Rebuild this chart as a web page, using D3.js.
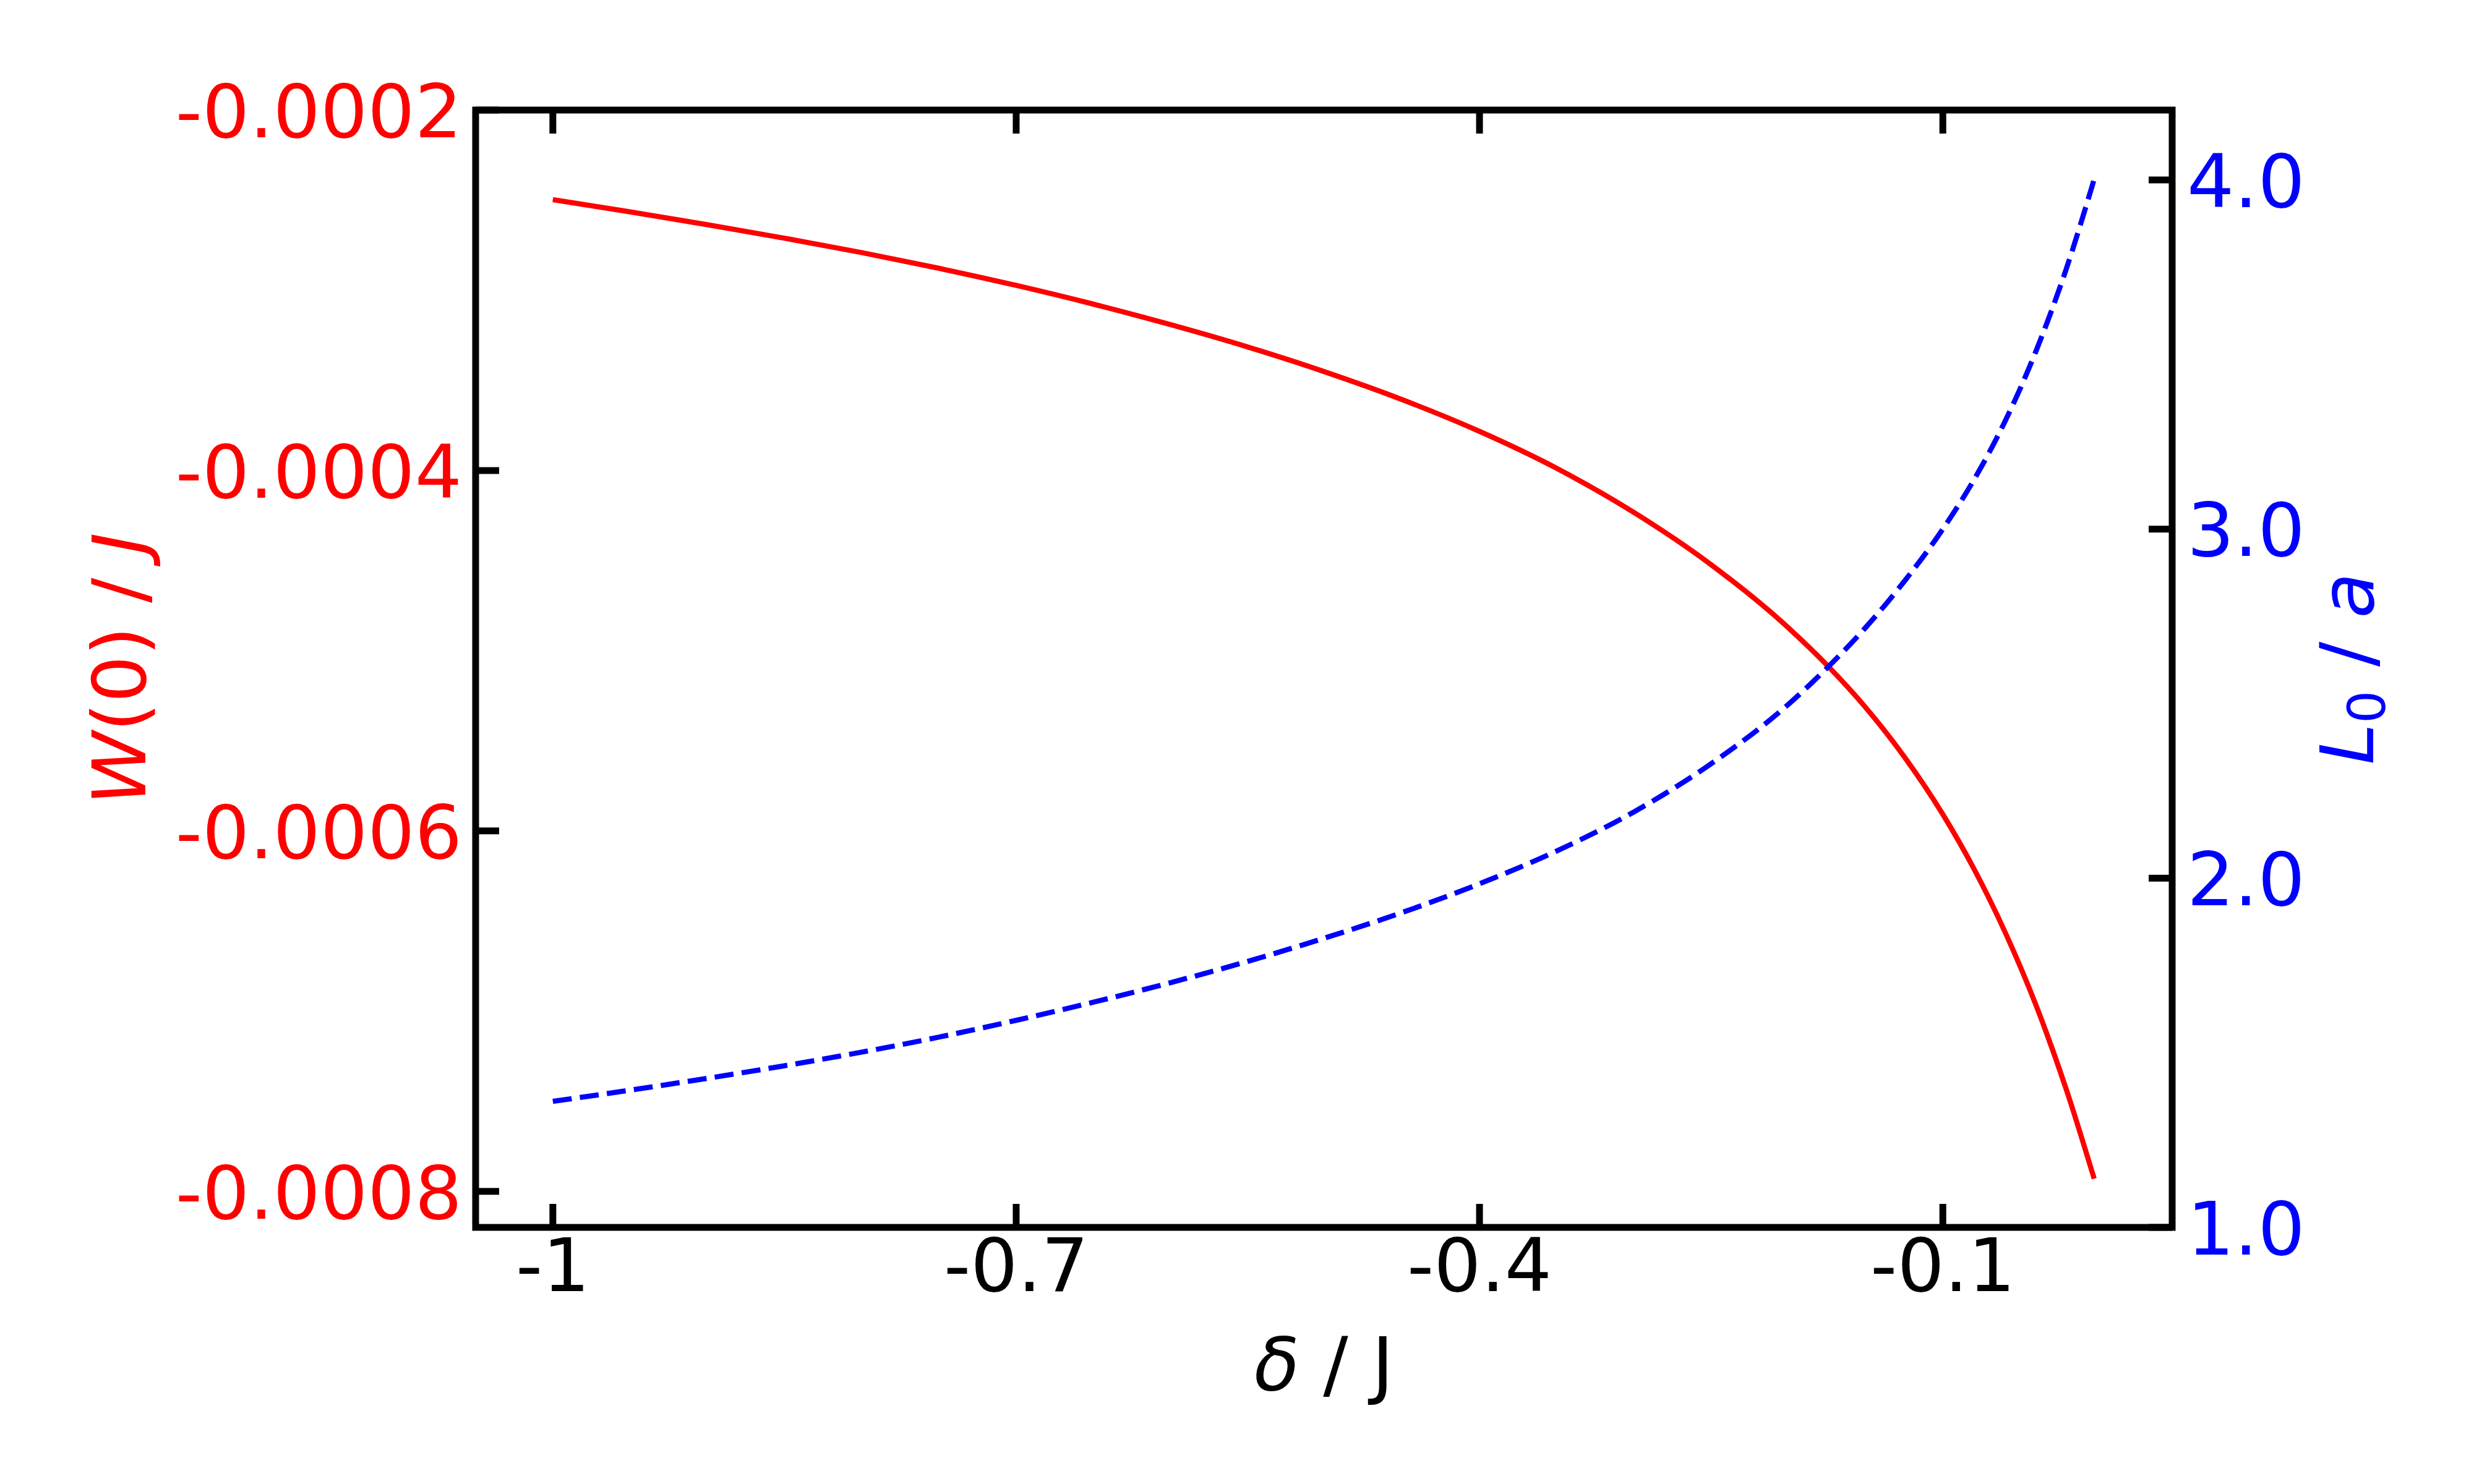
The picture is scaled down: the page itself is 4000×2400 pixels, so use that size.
<!DOCTYPE html>
<html>
<head>
<meta charset="utf-8">
<script src="https://cdn.jsdelivr.net/npm/d3@7"></script>
<style>
  html, body { margin: 0; padding: 0; background: #fff; }
  text { font-family: "DejaVu Sans", sans-serif; }
</style>
</head>
<body>
<svg id="chart" width="4000" height="2400"></svg>
<script>
// ---- data ----
const delta = [-1, -0.95, -0.9, -0.85, -0.8, -0.75, -0.7, -0.65, -0.6, -0.55, -0.5, -0.45,
               -0.4, -0.35, -0.3, -0.25, -0.2, -0.175, -0.15, -0.125, -0.1, -0.08, -0.06,
               -0.04, -0.02, -0.002];
const W0 = [-0.0002497, -0.0002565, -0.0002636, -0.0002711, -0.0002791, -0.0002878, -0.0002973,
            -0.0003077, -0.0003191, -0.0003315, -0.0003453, -0.0003607, -0.0003783, -0.0003988,
            -0.0004233, -0.0004523, -0.0004873, -0.0005080, -0.0005315, -0.0005588, -0.0005908,
            -0.0006208, -0.0006556, -0.0006960, -0.0007436, -0.0007930];
const L0 = [1.361, 1.393, 1.427, 1.463, 1.502, 1.545, 1.593, 1.645, 1.701, 1.762, 1.829, 1.902,
            1.984, 2.078, 2.190, 2.328, 2.498, 2.602, 2.718, 2.850, 3.000, 3.140, 3.306,
            3.506, 3.746, 4.002];
const xTicks = [-1, -0.7, -0.4, -0.1];
const xTickLabels = ["-1", "-0.7", "-0.4", "-0.1"];
const yLeftTicks = [-0.0002, -0.0004, -0.0006, -0.0008];
const yLeftTickLabels = ["-0.0002", "-0.0004", "-0.0006", "-0.0008"];
const yRightTicks = [1.0, 2.0, 3.0, 4.0];
const yRightTickLabels = ["1.0", "2.0", "3.0", "4.0"];

// ---- layout ----
const L = 769, R = 3512, T = 178, B = 1985;
const FS = 120, TICK = 38, SW = 11;
const RED = "#ff0000", BLUE = "#0000ff";

const svg = d3.select("#chart");
svg.append("rect").attr("width", 4000).attr("height", 2400).attr("fill", "#fff");

const x = d3.scaleLinear().domain([-1.05, 0.0485]).range([L, R]);
const yL = d3.scaleLinear().domain([-0.00082, -0.0002]).range([B, T]);
const yR = d3.scaleLinear().domain([1.0, 4.2]).range([B, T]);

// curves
const lineW = d3.line().x((d, i) => x(delta[i])).y(d => yL(d)).curve(d3.curveMonotoneX);
const lineL = d3.line().x((d, i) => x(delta[i])).y(d => yR(d)).curve(d3.curveMonotoneX);

svg.append("path").attr("d", lineW(W0)).attr("fill", "none")
  .attr("stroke", RED).attr("stroke-width", 8.3);
svg.append("path").attr("d", lineL(L0)).attr("fill", "none")
  .attr("stroke", BLUE).attr("stroke-width", 8.3)
  .attr("stroke-dasharray", "30.8,13.3");

// ticks (inward)
const g = svg.append("g").attr("stroke", "#000").attr("stroke-width", SW);
xTicks.forEach(v => {
  g.append("line").attr("x1", x(v)).attr("x2", x(v)).attr("y1", B).attr("y2", B - TICK);
  g.append("line").attr("x1", x(v)).attr("x2", x(v)).attr("y1", T).attr("y2", T + TICK);
});
yLeftTicks.forEach(v => {
  g.append("line").attr("x1", L).attr("x2", L + TICK).attr("y1", yL(v)).attr("y2", yL(v));
});
yRightTicks.forEach(v => {
  g.append("line").attr("x1", R).attr("x2", R - TICK).attr("y1", yR(v)).attr("y2", yR(v));
});

// frame
svg.append("rect").attr("x", L).attr("y", T).attr("width", R - L).attr("height", B - T)
  .attr("fill", "none").attr("stroke", "#000").attr("stroke-width", SW);

// tick labels
xTicks.forEach((v, i) => {
  svg.append("text").attr("x", x(v)).attr("y", B + 103).attr("text-anchor", "middle")
    .attr("font-size", FS).attr("fill", "#000").text(xTickLabels[i]);
});
yLeftTicks.forEach((v, i) => {
  svg.append("text").attr("x", L - 22).attr("y", yL(v) + 0.365 * FS).attr("text-anchor", "end")
    .attr("font-size", FS).attr("fill", RED).text(yLeftTickLabels[i]);
});
yRightTicks.forEach((v, i) => {
  svg.append("text").attr("x", R + 24).attr("y", yR(v) + 0.365 * FS).attr("text-anchor", "start")
    .attr("font-size", FS).attr("fill", BLUE).text(yRightTickLabels[i]);
});

// axis labels
const xl = svg.append("text").attr("x", (L + R) / 2).attr("y", 2248)
  .attr("text-anchor", "middle").attr("font-size", FS).attr("fill", "#000");
xl.append("tspan").attr("font-style", "italic").text("δ");
xl.append("tspan").text(" / J");

const cy = (T + B) / 2;
const ylab = svg.append("text").attr("transform", `translate(235,${cy}) rotate(-90)`)
  .attr("text-anchor", "middle").attr("font-size", FS).attr("fill", RED);
ylab.append("tspan").attr("font-style", "italic").text("W");
ylab.append("tspan").text("(0) / ");
ylab.append("tspan").attr("font-style", "italic").text("J");

const yrlab = svg.append("text").attr("transform", `translate(3837,${cy}) rotate(-90)`)
  .attr("text-anchor", "middle").attr("font-size", FS).attr("fill", BLUE);
yrlab.append("tspan").attr("font-style", "italic").text("L");
yrlab.append("tspan").attr("font-size", FS * 0.7).attr("dy", 0.16 * FS).text("0");
yrlab.append("tspan").attr("dy", -0.16 * FS).text(" / ");
yrlab.append("tspan").attr("font-style", "italic").text("a");
</script>
</body>
</html>
